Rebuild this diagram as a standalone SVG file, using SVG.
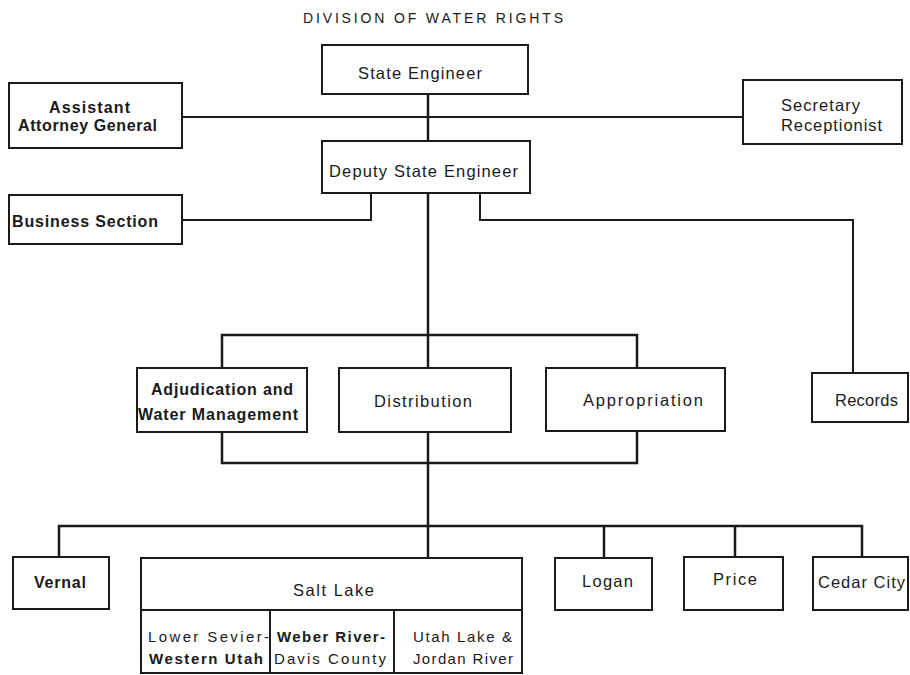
<svg xmlns="http://www.w3.org/2000/svg" width="910" height="675" viewBox="0 0 910 675">
<style>
  .box { fill: #ffffff; stroke: #1a1a1a; stroke-width: 2; }
  .line { fill: none; stroke: #1a1a1a; stroke-width: 2.5; stroke-linejoin: miter; }
  .thin { fill: none; stroke: #1a1a1a; stroke-width: 2; }
  text { font-family: "Liberation Sans", "DejaVu Sans", Arial, sans-serif; fill: #1a1a1a; font-size: 16.5px; }
  .b { font-weight: bold; font-size: 16px; }
  .sm { font-size: 15px; }
  .title { font-size: 14px; }
</style>
<rect x="0" y="0" width="910" height="675" fill="#ffffff"/>
<text class="title" x="303" y="23" textLength="260" lengthAdjust="spacing">DIVISION OF WATER RIGHTS</text>

<g id="connectors">
  <path class="line" d="M428,94 V141"/>
  <path class="thin" d="M182,117 H743"/>
  <path class="thin" d="M182,220 H371 V193"/>
  <path class="thin" d="M480,193 V220 H853 V373"/>
  <path class="line" d="M428,193 V368"/>
  <path class="line" d="M222,368 V335 H637 V368"/>
  <path class="line" d="M222,432 V463 H637 V431"/>
  <path class="line" d="M428,432 V558"/>
  <path class="line" d="M59,557 V526 H862 V557"/>
  <path class="line" d="M604,526 V558"/>
  <path class="line" d="M735,526 V557"/>
</g>

<g id="state-engineer">
  <rect class="box" x="322" y="45" width="206" height="49"/>
  <text x="358" y="79" textLength="124" lengthAdjust="spacing">State Engineer</text>
</g>
<g id="assistant-attorney-general">
  <rect class="box" x="9" y="83" width="173" height="65"/>
  <text class="b" x="49" y="113" textLength="81" lengthAdjust="spacing">Assistant</text>
  <text class="b" x="18" y="131" textLength="139" lengthAdjust="spacing">Attorney General</text>
</g>
<g id="secretary-receptionist">
  <rect class="box" x="743" y="80" width="159" height="64"/>
  <text x="781" y="111" textLength="79" lengthAdjust="spacing">Secretary</text>
  <text x="781" y="131" textLength="101" lengthAdjust="spacing">Receptionist</text>
</g>
<g id="deputy-state-engineer">
  <rect class="box" x="322" y="141" width="208" height="52"/>
  <text x="329" y="177" textLength="189" lengthAdjust="spacing">Deputy  State Engineer</text>
</g>
<g id="business-section">
  <rect class="box" x="9" y="195" width="173" height="49"/>
  <text class="b" x="12" y="227" textLength="146" lengthAdjust="spacing">Business Section</text>
</g>
<g id="adjudication">
  <rect class="box" x="137" y="368" width="170" height="64"/>
  <text class="b" x="151" y="395" textLength="142" lengthAdjust="spacing">Adjudication and</text>
  <text class="b" x="138" y="420" textLength="160" lengthAdjust="spacing">Water Management</text>
</g>
<g id="distribution">
  <rect class="box" x="339" y="368" width="172" height="64"/>
  <text x="374" y="407" textLength="98" lengthAdjust="spacing">Distribution</text>
</g>
<g id="appropriation">
  <rect class="box" x="546" y="368" width="179" height="63"/>
  <text x="583" y="406" textLength="120" lengthAdjust="spacing">Appropriation</text>
</g>
<g id="records">
  <rect class="box" x="812" y="373" width="96" height="49"/>
  <text x="835" y="406" textLength="63" lengthAdjust="spacing">Records</text>
</g>
<g id="vernal">
  <rect class="box" x="13" y="557" width="96" height="52"/>
  <text class="b" x="34" y="588" textLength="52" lengthAdjust="spacing">Vernal</text>
</g>
<g id="salt-lake">
  <rect class="box" x="141" y="558" width="381" height="115"/>
  <path class="thin" d="M141,610 H522 M270,610 V673 M394,610 V673"/>
  <text x="293" y="596" textLength="81" lengthAdjust="spacing">Salt Lake</text>
  <text class="sm" x="148" y="642" textLength="121" lengthAdjust="spacing">Lower Sevier-</text>
  <text class="sm" x="149" y="664" textLength="114" lengthAdjust="spacing" font-weight="bold">Western Utah</text>
  <text class="sm" x="277" y="642" textLength="108" lengthAdjust="spacing" font-weight="bold">Weber River-</text>
  <text class="sm" x="274" y="664" textLength="112" lengthAdjust="spacing">Davis County</text>
  <text class="sm" x="413" y="642" textLength="99" lengthAdjust="spacing">Utah Lake &amp;</text>
  <text class="sm" x="413" y="664" textLength="100" lengthAdjust="spacing">Jordan River</text>
</g>
<g id="logan">
  <rect class="box" x="555" y="558" width="97" height="52"/>
  <text x="582" y="587" textLength="51" lengthAdjust="spacing">Logan</text>
</g>
<g id="price">
  <rect class="box" x="684" y="557" width="99" height="53"/>
  <text x="713" y="585" textLength="44" lengthAdjust="spacing">Price</text>
</g>
<g id="cedar-city">
  <rect class="box" x="813" y="557" width="95" height="53"/>
  <text x="818" y="588" textLength="87" lengthAdjust="spacing">Cedar City</text>
</g>
</svg>
